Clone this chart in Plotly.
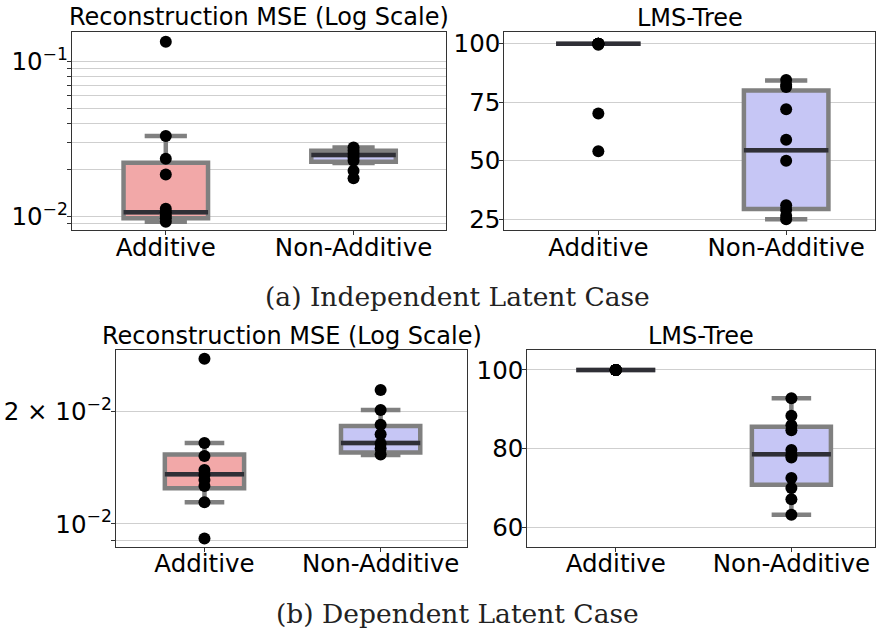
import math
import plotly.graph_objects as go

# ---------------- data ----------------
categories = ["Additive", "Non-Additive"]

# (a) Independent latent case - reconstruction MSE
a_mse_add_pts = [0.134, 0.033, 0.0235, 0.0186, 0.0112, 0.0106, 0.0101, 0.0097, 0.0092]
a_mse_non_pts = [0.0278, 0.0265, 0.0253, 0.0240, 0.0228, 0.0197, 0.0176]
a_mse_q1 = [0.0097, 0.02253]
a_mse_med = [0.0106, 0.02484]
a_mse_q3 = [0.0222, 0.0265]
a_mse_lo = [0.0092, 0.0221]
a_mse_hi = [0.033, 0.0278]

# (a) Independent latent case - LMS-Tree
a_lms_add_pts = [100, 100, 100, 100, 100, 100, 99.5, 70.2, 54.0]
a_lms_non_pts = [84.5, 82.5, 81.5, 72.0, 59.0, 50.0, 31.0, 29.0, 26.5, 25.0]
a_lms_q1 = [100, 29.4]
a_lms_med = [100, 54.5]
a_lms_q3 = [100, 80.0]
a_lms_lo = [100, 25.0]
a_lms_hi = [100, 84.3]

# (b) Dependent latent case - reconstruction MSE
b_mse_add_pts = [0.02776, 0.01649, 0.01522, 0.01395, 0.01353, 0.01312, 0.01264, 0.01144, 0.00914]
b_mse_non_pts = [0.02286, 0.02022, 0.01845, 0.01739, 0.01643, 0.01593, 0.01535]
b_mse_q1 = [0.01246, 0.01554]
b_mse_med = [0.01359, 0.01649]
b_mse_q3 = [0.01535, 0.0183]
b_mse_lo = [0.01144, 0.0153]
b_mse_hi = [0.01649, 0.0202]

# (b) Dependent latent case - LMS-Tree
b_lms_add_pts = [100] * 10
b_lms_non_pts = [92.8, 88.4, 86.0, 84.7, 79.7, 78.4, 77.8, 72.6, 70.1, 67.2, 63.3]
b_lms_q1 = [100, 70.9]
b_lms_med = [100, 78.6]
b_lms_q3 = [100, 85.6]
b_lms_lo = [100, 63.3]
b_lms_hi = [100, 92.8]

panel_titles = ["Reconstruction MSE (Log Scale)", "LMS-Tree",
                "Reconstruction MSE (Log Scale)", "LMS-Tree"]
captions = ["(a) Independent Latent Case", "(b) Dependent Latent Case"]

# ---------------- style ----------------
W, H = 876, 634
FONT = "DejaVu Sans"
FS_TICK = 24.5
FS_TITLE = 24
fills = ["#f2a8a8", "#c6c6f5"]
edge = "#808080"
median_col = "rgba(15,15,25,0.72)"
grid_col = "#cfcfcf"
BOX_W = 0.45

# panel pixel rectangles: (left, top, right, bottom)
rects = [(72, 30, 447, 230), (505, 30, 876, 230),
         (116, 351, 468, 549), (528, 351, 876, 549)]

fig = go.Figure()

panels = [
    (a_mse_add_pts, a_mse_non_pts, a_mse_q1, a_mse_med, a_mse_q3, a_mse_lo, a_mse_hi),
    (a_lms_add_pts, a_lms_non_pts, a_lms_q1, a_lms_med, a_lms_q3, a_lms_lo, a_lms_hi),
    (b_mse_add_pts, b_mse_non_pts, b_mse_q1, b_mse_med, b_mse_q3, b_mse_lo, b_mse_hi),
    (b_lms_add_pts, b_lms_non_pts, b_lms_q1, b_lms_med, b_lms_q3, b_lms_lo, b_lms_hi),
]

for i, (p_add, p_non, q1, med, q3, lo, hi) in enumerate(panels):
    ax = "" if i == 0 else str(i + 1)
    xr, yr = "x" + ax, "y" + ax
    pts = [p_add, p_non]
    for c in range(2):
        fig.add_trace(go.Box(
            x=[c], q1=[q1[c]], median=[med[c]], q3=[q3[c]],
            lowerfence=[lo[c]], upperfence=[hi[c]],
            width=BOX_W, whiskerwidth=0.5, boxpoints=False,
            fillcolor=fills[c], line=dict(color=edge, width=4.5),
            xaxis=xr, yaxis=yr, showlegend=False, hoverinfo="skip"))
        fig.add_trace(go.Scatter(
            x=[c - BOX_W / 2, c + BOX_W / 2], y=[med[c], med[c]],
            mode="lines", line=dict(color=median_col, width=4.5),
            xaxis=xr, yaxis=yr, showlegend=False, hoverinfo="skip"))
        fig.add_trace(go.Scatter(
            x=[c] * len(pts[c]), y=pts[c], mode="markers",
            marker=dict(color="black", size=12, line=dict(width=0)),
            xaxis=xr, yaxis=yr, showlegend=False, hoverinfo="skip"))

layout = dict(width=W, height=H, margin=dict(l=0, r=0, t=0, b=0),
              paper_bgcolor="white", plot_bgcolor="white",
              font=dict(family=FONT, size=FS_TICK, color="black"))

x_ranges = [[-0.5, 1.495], [-0.5, 1.473], [-0.503, 1.493], [-0.503, 1.476]]

minor_a = [0.009, 0.01, 0.02, 0.03, 0.04, 0.05, 0.06, 0.07, 0.08, 0.09, 0.1]
minor_a_txt = ["" if v not in (0.01, 0.1) else ("10<sup>−2</sup>" if v == 0.01 else "10<sup>−1</sup>")
               for v in minor_a]
minor_b = [0.009, 0.01, 0.02]
minor_b_txt = ["", "10<sup>−2</sup>", "2 × 10<sup>−2</sup>"]

y_specs = [
    dict(type="log", range=[math.log10(0.00813), math.log10(0.1556)],
         tickvals=minor_a, ticktext=minor_a_txt),
    dict(range=[20.3, 105.1], tickvals=[25, 50, 75, 100]),
    dict(type="log", range=[math.log10(0.00869), math.log10(0.02924)],
         tickvals=minor_b, ticktext=minor_b_txt),
    dict(range=[55.2, 105.0], tickvals=[60, 80, 100]),
]

title_y = [15, 16, 337, 337]

ann = []
for i, (l, t, r, b) in enumerate(rects):
    ax = "" if i == 0 else str(i + 1)
    xd = [l / W, r / W]
    yd = [1 - b / H, 1 - t / H]
    layout["xaxis" + ax] = dict(
        domain=xd, range=x_ranges[i], tickmode="array", tickvals=[0, 1],
        ticktext=categories, showgrid=False, zeroline=False,
        showline=True, linecolor="#333333", linewidth=1.3, mirror=True,
        ticks="outside", ticklen=4, tickcolor="#333333",
        ticklabelstandoff=-9,
        anchor="y" + ax, fixedrange=True)
    ys = dict(domain=yd, showgrid=True, gridcolor=grid_col, gridwidth=1.3,
              zeroline=False, showline=True, linecolor="#333333", linewidth=1.3,
              mirror=True, ticks="outside", ticklen=4, tickcolor="#333333",
              ticklabelstandoff=-6,
              anchor="x" + ax, tickmode="array", fixedrange=True)
    ys.update(y_specs[i])
    layout["yaxis" + ax] = ys
    ann.append(dict(text=panel_titles[i], x=(l + r) / 2 / W, y=1 - title_y[i] / H,
                    xref="paper", yref="paper", xanchor="center", yanchor="middle",
                    showarrow=False, font=dict(family=FONT, size=FS_TITLE, color="black")))

cap_y = [297, 616]
for k in range(2):
    ann.append(dict(text=captions[k], x=458 / W, y=1 - cap_y[k] / H, xref="paper", yref="paper",
                    xanchor="center", yanchor="middle", showarrow=False,
                    font=dict(family="DejaVu Serif", size=26.5, color="#222222")))
layout["annotations"] = ann

fig.update_layout(**layout)
fig.write_html("out.html")
